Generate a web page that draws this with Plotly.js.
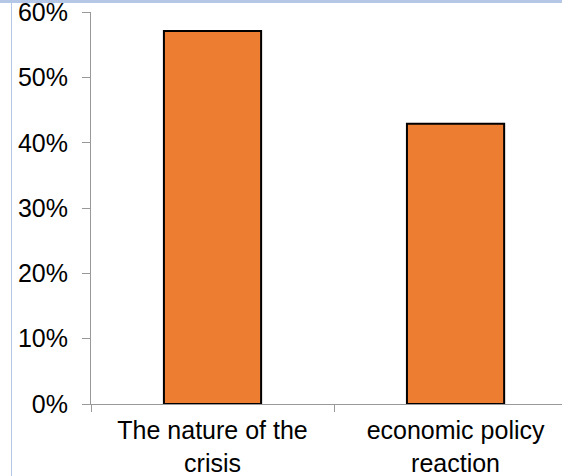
<!DOCTYPE html>
<html>
<head>
<meta charset="utf-8">
<script src="https://cdn.plot.ly/plotly-3.0.1.min.js"></script>
<style>
  html, body { margin: 0; padding: 0; background: #ffffff; }
  #wrap { position: relative; width: 562px; height: 476px; overflow: hidden; }
  #chart { position: absolute; left: 0; top: 0; width: 562px; height: 476px; }
  #topband { position: absolute; left: 0; top: 0; width: 562px; height: 3px; background: #b4c7e7; z-index: 5; }
  #leftline { position: absolute; left: 11px; top: 0; width: 1px; height: 476px; background: #b4c7e7; z-index: 5; }
</style>
</head>
<body>
<div id="wrap">
  <div id="chart"></div>
  <div id="topband"></div>
  <div id="leftline"></div>
</div>
<script>
const categories = ["The nature of the<br>crisis", "economic policy<br>reaction"];
const shares = [0.571, 0.429];
const yTickValues = [0, 0.1, 0.2, 0.3, 0.4, 0.5, 0.6];

const trace = {
  type: 'bar',
  x: categories,
  y: shares,
  marker: { color: '#ED7D31', line: { color: '#000000', width: 2 } },
  hoverinfo: 'none'
};

const layout = {
  width: 562,
  height: 476,
  margin: { l: 91, r: 0, t: 12, b: 72, pad: 0 },
  paper_bgcolor: '#ffffff',
  plot_bgcolor: '#ffffff',
  showlegend: false,
  bargap: 0.6,
  font: { family: '"Liberation Sans", Arial, sans-serif', size: 25, color: '#000000' },
  xaxis: {
    type: 'category',
    range: [-0.5, 1.438],
    showline: true,
    linecolor: '#999999',
    linewidth: 1,
    ticks: 'outside',
    tickson: 'boundaries',
    ticklen: 7,
    tickcolor: '#999999',
    showgrid: false,
    zeroline: false,
    ticklabelstandoff: 4,
    tickfont: { size: 25, color: '#000000' }
  },
  yaxis: {
    range: [0, 0.6002],
    tickvals: yTickValues,
    tickformat: '.0%',
    showline: true,
    linecolor: '#999999',
    linewidth: 1,
    ticks: 'outside',
    ticklen: 8,
    tickcolor: '#999999',
    showgrid: false,
    zeroline: false,
    ticklabelstandoff: 9,
    ticklabeloverflow: 'allow',
    tickfont: { size: 25, color: '#000000' }
  }
};

Plotly.newPlot('chart', [trace], layout, { staticPlot: true, displayModeBar: false });
</script>
</body>
</html>
